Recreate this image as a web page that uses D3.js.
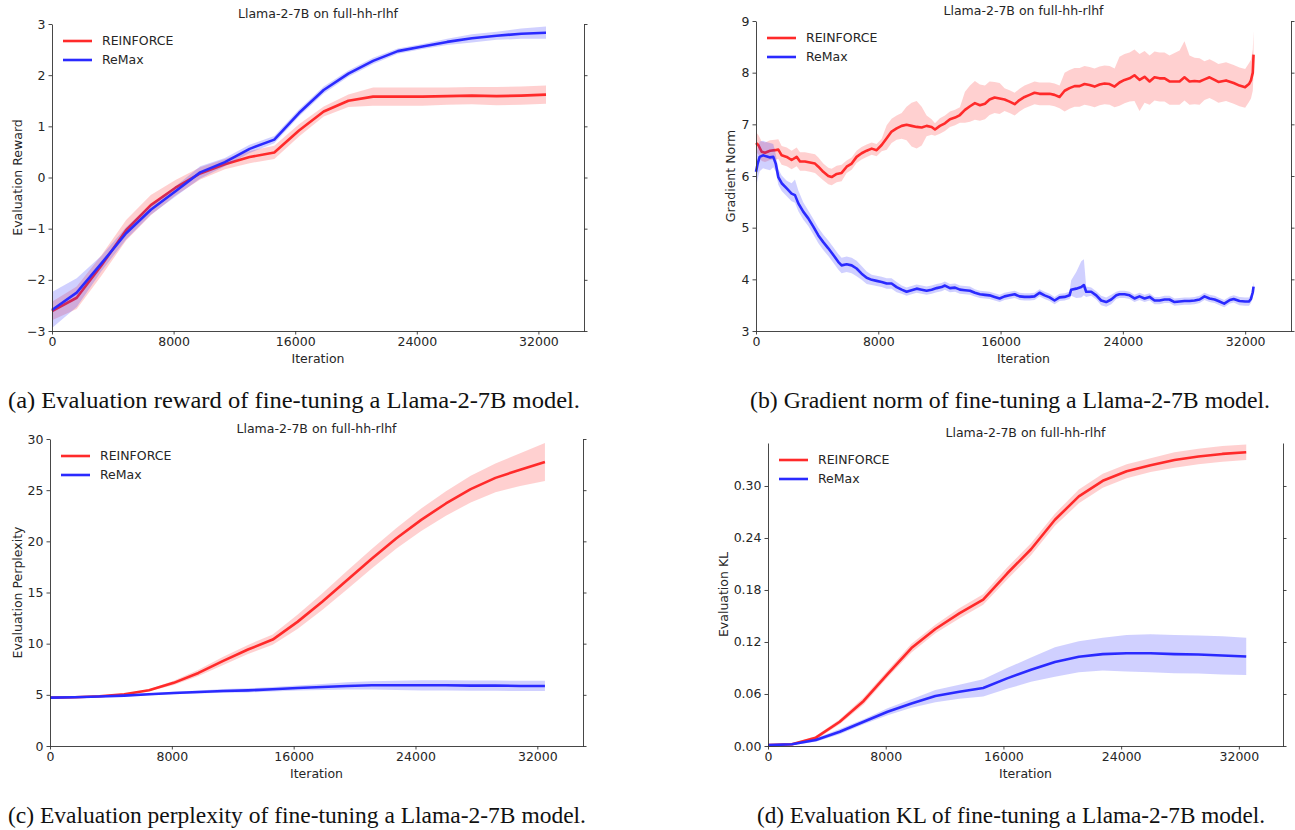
<!DOCTYPE html>
<html>
<head>
<meta charset="utf-8">
<script src="https://cdn.jsdelivr.net/npm/d3@7"></script>
<style>
  body { margin: 0; background: #fff; }
  svg { display: block; }
  .tick text { font-family: "DejaVu Sans", sans-serif; font-size: 12.5px; fill: #262626; }
  .tick line, .domain { stroke: #333; stroke-width: 0.9; }
</style>
</head>
<body>
<svg id="fig" width="1295" height="830"></svg>
<script>
// ---- data ----
var evalIters = [0, 1625, 3250, 4875, 6500, 8125, 9750, 11375, 13000, 14625, 16250,
  17875, 19500, 21125, 22750, 24375, 26000, 27625, 29250, 30875, 32500];

// (a) evaluation reward
var rewardReinforce = [-2.61, -2.35, -1.72, -1.03, -0.54, -0.2, 0.08, 0.26, 0.4, 0.49, 0.92,
  1.29, 1.5, 1.58, 1.58, 1.58, 1.59, 1.6, 1.59, 1.6, 1.62];
var rewardReinforceStd = [0.18, 0.22, 0.2, 0.2, 0.2, 0.15, 0.12, 0.1, 0.12, 0.13, 0.12,
  0.1, 0.12, 0.18, 0.18, 0.18, 0.17, 0.17, 0.18, 0.18, 0.18];
var rewardRemax = [-2.59, -2.25, -1.68, -1.09, -0.63, -0.27, 0.1, 0.3, 0.56, 0.74, 1.26,
  1.71, 2.03, 2.28, 2.47, 2.56, 2.65, 2.72, 2.77, 2.81, 2.83];
var rewardRemaxStd = [0.35, 0.28, 0.15, 0.12, 0.1, 0.1, 0.12, 0.08, 0.08, 0.07, 0.07,
  0.07, 0.06, 0.06, 0.05, 0.05, 0.06, 0.08, 0.08, 0.1, 0.12];

// (c) evaluation perplexity
var pplReinforce = [4.73, 4.76, 4.86, 5.05, 5.44, 6.17, 7.14, 8.32, 9.43, 10.4, 12.13,
  14.1, 16.2, 18.3, 20.3, 22.1, 23.7, 25.1, 26.2, 27.0, 27.75];
var pplReinforceStd = [0.05, 0.05, 0.06, 0.08, 0.1, 0.2, 0.3, 0.4, 0.45, 0.5, 0.7,
  0.8, 0.9, 0.95, 1.0, 1.1, 1.2, 1.3, 1.4, 1.6, 1.85];
var pplRemax = [4.73, 4.76, 4.83, 4.92, 5.05, 5.18, 5.28, 5.38, 5.44, 5.54, 5.67,
  5.77, 5.87, 5.93, 5.93, 5.93, 5.93, 5.9, 5.9, 5.87, 5.87];
var pplRemaxStd = [0.05, 0.05, 0.06, 0.08, 0.1, 0.12, 0.15, 0.18, 0.2, 0.22, 0.25,
  0.3, 0.35, 0.4, 0.45, 0.5, 0.5, 0.5, 0.5, 0.5, 0.5];

// (d) evaluation KL
var klReinforce = [0.001, 0.002, 0.0096, 0.028, 0.052, 0.083, 0.113, 0.135, 0.153, 0.169, 0.199,
  0.227, 0.261, 0.288, 0.306, 0.317, 0.324, 0.33, 0.334, 0.337, 0.339];
var klReinforceStd = [0.001, 0.001, 0.002, 0.003, 0.004, 0.004, 0.005, 0.005, 0.006, 0.006, 0.007,
  0.007, 0.007, 0.008, 0.008, 0.008, 0.008, 0.009, 0.009, 0.009, 0.009];
var klRemax = [0.001, 0.002, 0.007, 0.0165, 0.028, 0.0395, 0.049, 0.0576, 0.0626, 0.067, 0.078,
  0.088, 0.097, 0.103, 0.106, 0.107, 0.107, 0.106, 0.1056, 0.1045, 0.1033];
var klRemaxStd = [0.001, 0.001, 0.002, 0.003, 0.003, 0.004, 0.005, 0.007, 0.008, 0.01, 0.012,
  0.014, 0.017, 0.018, 0.019, 0.021, 0.022, 0.022, 0.022, 0.022, 0.0215];

// (b) gradient norm (logged far more often than the evaluations)
var gradItersReinforce = [0, 150, 370, 590, 920, 1240, 1460, 1680, 2010, 2330, 2660, 2880, 3200, 3530,
  3860, 4080, 4400, 4730, 4950, 5280, 5600, 5930, 6260, 6580, 6910, 7240, 7570, 7890, 8220, 8550,
  8870, 9200, 9530, 9850, 10180, 10510, 10840, 11160, 11490, 11710, 12030, 12360, 12690, 13020,
  13340, 13670, 14000, 14320, 14650, 14980, 15280, 15610, 15940, 16260, 16590, 16920, 17240, 17570,
  17900, 18220, 18550, 18880, 19210, 19530, 19860, 20190, 20510, 20840, 21170, 21490, 21820, 22150,
  22480, 22800, 23130, 23460, 23780, 24110, 24440, 24760, 25090, 25420, 25750, 26070, 26400, 26730,
  27050, 27380, 27710, 28030, 28360, 28690, 29020, 29340, 29670, 30000, 30250, 30750, 31250, 31630,
  32000, 32250, 32380, 32500, 32550];
var gradReinforce = [6.64, 6.6, 6.47, 6.45, 6.49, 6.5, 6.51, 6.4, 6.37, 6.31, 6.37, 6.28, 6.28, 6.26,
  6.24, 6.18, 6.08, 6.0, 5.98, 6.04, 6.06, 6.18, 6.24, 6.37, 6.44, 6.49, 6.53, 6.5, 6.6, 6.73,
  6.86, 6.92, 6.97, 6.99, 6.97, 6.95, 6.94, 6.97, 6.95, 6.9, 6.97, 7.02, 7.1, 7.13,
  7.18, 7.28, 7.35, 7.41, 7.37, 7.4, 7.48, 7.52, 7.5, 7.48, 7.44, 7.39, 7.47, 7.53,
  7.57, 7.61, 7.59, 7.59, 7.59, 7.57, 7.53, 7.65, 7.7, 7.74, 7.74, 7.78, 7.76, 7.73,
  7.77, 7.79, 7.78, 7.73, 7.81, 7.86, 7.89, 7.95, 7.86, 7.92, 7.83, 7.91, 7.89, 7.89,
  7.83, 7.83, 7.83, 7.91, 7.83, 7.84, 7.83, 7.87, 7.91, 7.86, 7.82, 7.85, 7.8, 7.75,
  7.72, 7.78, 7.85, 8.0, 8.35];
var gradReinforceUp = [0.2, 0.2, 0.2, 0.2, 0.2, 0.2, 0.2, 0.18, 0.18, 0.18, 0.18, 0.18, 0.18, 0.18,
  0.18, 0.18, 0.16, 0.16, 0.16, 0.16, 0.16, 0.12, 0.12, 0.12, 0.12, 0.12, 0.12, 0.12, 0.12, 0.25,
  0.25, 0.25, 0.25, 0.35, 0.45, 0.5, 0.4, 0.2, 0.15, 0.12, 0.15, 0.15, 0.15, 0.15,
  0.15, 0.35, 0.4, 0.43, 0.4, 0.35, 0.35, 0.3, 0.3, 0.22, 0.22, 0.22, 0.22, 0.22,
  0.22, 0.22, 0.22, 0.22, 0.22, 0.22, 0.22, 0.35, 0.35, 0.35, 0.35, 0.35, 0.35, 0.35,
  0.35, 0.35, 0.35, 0.35, 0.5, 0.5, 0.5, 0.5, 0.5, 0.5, 0.5, 0.5, 0.5, 0.5,
  0.5, 0.55, 0.6, 0.7, 0.5, 0.45, 0.45, 0.35, 0.35, 0.35, 0.35, 0.35, 0.35, 0.35,
  0.35, 0.4, 0.4, 0.45, 0.45];
var gradReinforceDn = [0.18, 0.18, 0.18, 0.18, 0.18, 0.18, 0.18, 0.18, 0.18, 0.18, 0.18, 0.18, 0.18, 0.18,
  0.18, 0.18, 0.16, 0.16, 0.16, 0.16, 0.16, 0.12, 0.12, 0.12, 0.12, 0.12, 0.12, 0.12, 0.12, 0.22,
  0.22, 0.22, 0.25, 0.3, 0.4, 0.42, 0.35, 0.2, 0.15, 0.12, 0.15, 0.15, 0.15, 0.15,
  0.15, 0.25, 0.3, 0.32, 0.3, 0.3, 0.3, 0.3, 0.3, 0.22, 0.22, 0.22, 0.22, 0.22,
  0.22, 0.22, 0.22, 0.22, 0.22, 0.22, 0.22, 0.4, 0.4, 0.4, 0.4, 0.4, 0.4, 0.4,
  0.4, 0.4, 0.4, 0.4, 0.45, 0.45, 0.45, 0.5, 0.6, 0.5, 0.45, 0.45, 0.45, 0.45,
  0.45, 0.45, 0.45, 0.45, 0.45, 0.45, 0.45, 0.4, 0.4, 0.4, 0.4, 0.4, 0.4, 0.4,
  0.4, 0.35, 0.35, 0.35, 0.35];

var gradItersRemax = [0, 110, 240, 460, 670, 920, 1130, 1290, 1460, 1680, 2010, 2330, 2550, 2770,
  3090, 3420, 3750, 4080, 4400, 4730, 5060, 5380, 5600, 5930, 6260, 6580, 6910, 7240, 7570, 7890,
  8220, 8550, 8870, 9200, 9530, 9850, 10180, 10510, 10840, 11160, 11490, 11820, 12140, 12360,
  12690, 13020, 13340, 13670, 14000, 14320, 14650, 14980, 15280, 15610, 15940, 16260, 16590, 16920,
  17240, 17570, 17900, 18220, 18550, 18880, 19210, 19530, 19860, 20190, 20510, 20620, 20950, 21280,
  21450, 21600, 21930, 22260, 22580, 22910, 23240, 23570, 23780, 24110, 24440, 24760, 25090, 25420,
  25750, 26070, 26400, 26730, 27050, 27380, 27710, 28030, 28360, 28690, 29020, 29340, 29670, 30000,
  30250, 30630, 31000, 31250, 31630, 32000, 32250, 32380, 32500, 32550];
var gradRemax = [6.08, 6.24, 6.37, 6.4, 6.38, 6.36, 6.37, 6.24, 5.98, 5.86, 5.76, 5.66, 5.63, 5.47,
  5.31, 5.18, 5.02, 4.85, 4.72, 4.6, 4.47, 4.34, 4.27, 4.29, 4.27, 4.21, 4.11, 4.03, 3.99, 3.97,
  3.95, 3.92, 3.92, 3.85, 3.8, 3.76, 3.79, 3.82, 3.8, 3.78, 3.8, 3.83, 3.85, 3.88,
  3.83, 3.84, 3.8, 3.79, 3.78, 3.74, 3.71, 3.7, 3.69, 3.66, 3.63, 3.67, 3.69, 3.71,
  3.67, 3.66, 3.66, 3.67, 3.74, 3.69, 3.65, 3.59, 3.65, 3.66, 3.69, 3.8, 3.82, 3.85,
  3.89, 3.76, 3.76, 3.69, 3.59, 3.56, 3.61, 3.69, 3.71, 3.71, 3.69, 3.63, 3.67, 3.63,
  3.66, 3.59, 3.59, 3.61, 3.61, 3.56, 3.57, 3.58, 3.58, 3.59, 3.61, 3.67, 3.63, 3.61,
  3.58, 3.53, 3.6, 3.62, 3.58, 3.57, 3.57, 3.62, 3.75, 3.86];
var gradRemaxUp = [0.3, 0.3, 0.3, 0.28, 0.28, 0.28, 0.25, 0.18, 0.15, 0.15, 0.15, 0.2, 0.3, 0.25,
  0.18, 0.15, 0.15, 0.15, 0.15, 0.15, 0.15, 0.15, 0.15, 0.15, 0.15, 0.15, 0.15, 0.12, 0.1, 0.1,
  0.1, 0.1, 0.1, 0.1, 0.08, 0.08, 0.08, 0.08, 0.08, 0.08, 0.08, 0.08, 0.08, 0.08,
  0.08, 0.08, 0.08, 0.08, 0.08, 0.07, 0.07, 0.07, 0.07, 0.07, 0.07, 0.07, 0.07, 0.07,
  0.07, 0.07, 0.07, 0.07, 0.07, 0.07, 0.07, 0.07, 0.07, 0.07, 0.07, 0.18, 0.32, 0.5,
  0.5, 0.1, 0.08, 0.08, 0.09, 0.09, 0.09, 0.07, 0.07, 0.07, 0.07, 0.07, 0.07, 0.07,
  0.07, 0.07, 0.07, 0.07, 0.07, 0.07, 0.07, 0.07, 0.07, 0.07, 0.07, 0.07, 0.07, 0.07,
  0.07, 0.07, 0.07, 0.07, 0.08, 0.08, 0.08, 0.08, 0.1, 0.1];
var gradRemaxDn = [0.3, 0.3, 0.28, 0.25, 0.25, 0.25, 0.2, 0.15, 0.15, 0.15, 0.15, 0.15, 0.15, 0.15,
  0.15, 0.15, 0.15, 0.15, 0.15, 0.15, 0.15, 0.15, 0.15, 0.15, 0.15, 0.15, 0.12, 0.12, 0.1, 0.1,
  0.1, 0.1, 0.1, 0.1, 0.08, 0.08, 0.08, 0.08, 0.08, 0.08, 0.08, 0.08, 0.08, 0.08,
  0.08, 0.08, 0.08, 0.08, 0.08, 0.07, 0.07, 0.07, 0.07, 0.07, 0.07, 0.07, 0.07, 0.07,
  0.07, 0.07, 0.07, 0.07, 0.07, 0.07, 0.07, 0.07, 0.07, 0.07, 0.07, 0.12, 0.18, 0.2,
  0.2, 0.1, 0.08, 0.08, 0.09, 0.09, 0.09, 0.07, 0.07, 0.07, 0.07, 0.07, 0.07, 0.07,
  0.07, 0.07, 0.07, 0.07, 0.07, 0.07, 0.07, 0.07, 0.07, 0.07, 0.07, 0.07, 0.07, 0.07,
  0.07, 0.07, 0.07, 0.07, 0.08, 0.08, 0.08, 0.08, 0.1, 0.1];

var xTicks = [0, 8000, 16000, 24000, 32000];
var rewardTicks = [-3, -2, -1, 0, 1, 2, 3];
var gradTicks = [3, 4, 5, 6, 7, 8, 9];
var pplTicks = [0, 5, 10, 15, 20, 25, 30];
var klTicks = [0, 0.06, 0.12, 0.18, 0.24, 0.30];
var seriesNames = ["REINFORCE", "ReMax"];

var red = "#ff2a2a", blue = "#2a2aff";

// helper: turn mean / spread arrays into row objects
function rows(xs, mean, up, dn) {
  return xs.map(function (x, i) {
    return { x: x, y: mean[i], lo: mean[i] - (dn ? dn[i] : up[i]), hi: mean[i] + up[i] };
  });
}

var panels = [
  { x0: 52, x1: 584, y0: 24, y1: 331, yDomain: [-3, 3], yTicks: rewardTicks, fmt: d3.format("d"),
    ylabel: "Evaluation Reward", ylabelX: 22,
    caption: "(a) Evaluation reward of fine-tuning a Llama-2-7B model.", capX: 294, capY: 408, capW: 572,
    series: [rows(evalIters, rewardReinforce, rewardReinforceStd), rows(evalIters, rewardRemax, rewardRemaxStd)] },
  { x0: 756, x1: 1291, y0: 21, y1: 331, yDomain: [3, 9], yTicks: gradTicks, fmt: d3.format("d"),
    ylabel: "Gradient Norm", ylabelX: 735,
    caption: "(b) Gradient norm of fine-tuning a Llama-2-7B model.", capX: 1010, capY: 408, capW: 520,
    series: [rows(gradItersReinforce, gradReinforce, gradReinforceUp, gradReinforceDn),
             rows(gradItersRemax, gradRemax, gradRemaxUp, gradRemaxDn)] },
  { x0: 50, x1: 583, y0: 439, y1: 746, yDomain: [0, 30], yTicks: pplTicks, fmt: d3.format("d"),
    ylabel: "Evaluation Perplexity", ylabelX: 22,
    caption: "(c) Evaluation perplexity of fine-tuning a Llama-2-7B model.", capX: 297, capY: 823, capW: 578,
    series: [rows(evalIters, pplReinforce, pplReinforceStd), rows(evalIters, pplRemax, pplRemaxStd)] },
  { x0: 768, x1: 1283, y0: 443, y1: 746, yDomain: [0, 0.3496], yTicks: klTicks, fmt: d3.format(".2f"),
    ylabel: "Evaluation KL", ylabelX: 728,
    caption: "(d) Evaluation KL of fine-tuning a Llama-2-7B model.", capX: 1011, capY: 823, capW: 508,
    series: [rows(evalIters, klReinforce, klReinforceStd), rows(evalIters, klRemax, klRemaxStd)] }
];

var svg = d3.select("#fig");
var colors = [red, blue];

panels.forEach(function (p) {
  var x = d3.scaleLinear().domain([0, 35000]).range([p.x0, p.x1]);
  var y = d3.scaleLinear().domain(p.yDomain).range([p.y1, p.y0]);
  var g = svg.append("g");

  var area = d3.area().x(function (d) { return x(d.x); })
    .y0(function (d) { return y(d.lo); }).y1(function (d) { return y(d.hi); });
  var line = d3.line().x(function (d) { return x(d.x); }).y(function (d) { return y(d.y); });

  p.series.forEach(function (s, i) {
    g.append("path").attr("d", area(s))
      .attr("fill", colors[i]).attr("fill-opacity", 0.22).attr("stroke", "none");
    g.append("path").attr("d", line(s))
      .attr("fill", "none").attr("stroke", colors[i]).attr("stroke-width", 2.6)
      .attr("stroke-linejoin", "round");
  });

  g.append("g").attr("transform", "translate(0," + p.y1 + ")")
    .call(d3.axisBottom(x).tickValues(xTicks).tickFormat(d3.format("d"))
      .tickSize(3.5).tickSizeOuter(0).tickPadding(3));
  g.append("g").attr("transform", "translate(" + p.x0 + ",0)")
    .call(d3.axisLeft(y).tickValues(p.yTicks).tickFormat(p.fmt)
      .tickSize(3.5).tickSizeOuter(0).tickPadding(3));
  g.append("g").attr("transform", "translate(" + p.x1 + ",0)")
    .call(d3.axisRight(y).tickValues(p.yTicks).tickFormat("")
      .tickSize(3.5).tickSizeOuter(0));

  var mid = (p.x0 + p.x1) / 2;
  g.append("text").attr("x", mid).attr("y", p.y0 - 6)
    .attr("text-anchor", "middle").style("font-family", "DejaVu Sans").style("font-size", "12.5px")
    .attr("fill", "#262626").text("Llama-2-7B on full-hh-rlhf");
  g.append("text").attr("x", mid).attr("y", p.y1 + 32)
    .attr("text-anchor", "middle").style("font-family", "DejaVu Sans").style("font-size", "12.5px")
    .attr("fill", "#262626").text("Iteration");
  g.append("text")
    .attr("transform", "translate(" + p.ylabelX + "," + ((p.y0 + p.y1) / 2) + ") rotate(-90)")
    .attr("text-anchor", "middle").style("font-family", "DejaVu Sans").style("font-size", "12.5px")
    .attr("fill", "#262626").text(p.ylabel);

  // legend
  seriesNames.forEach(function (name, i) {
    var ly = p.y0 + 17 + i * 19;
    g.append("line").attr("x1", p.x0 + 11).attr("x2", p.x0 + 40).attr("y1", ly).attr("y2", ly)
      .attr("stroke", colors[i]).attr("stroke-width", 2.6);
    g.append("text").attr("x", p.x0 + 50).attr("y", ly).attr("dy", "0.35em")
      .style("font-family", "DejaVu Sans").style("font-size", "12.5px").attr("fill", "#262626")
      .text(name);
  });

  svg.append("text").attr("x", p.capX).attr("y", p.capY).attr("text-anchor", "middle")
    .attr("textLength", p.capW).attr("lengthAdjust", "spacingAndGlyphs")
    .style("font-family", "Liberation Serif, Times New Roman, serif").style("font-size", "23px")
    .attr("fill", "#111").text(p.caption);
});
</script>
</body>
</html>
